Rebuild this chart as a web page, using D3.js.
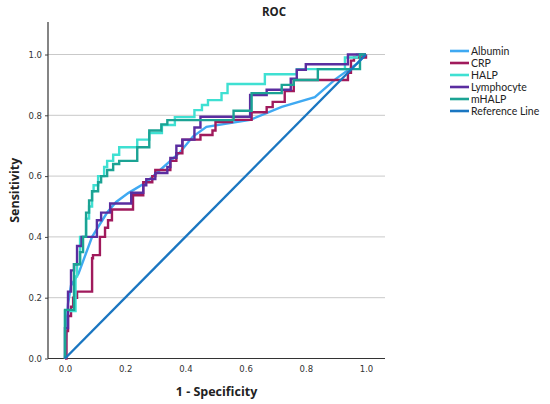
<!DOCTYPE html>
<html>
<head>
<meta charset="utf-8">
<script src="https://cdn.jsdelivr.net/npm/d3@7"></script>
<style>
  body { margin: 0; background: #fff; }
  .tick text { font-family: "DejaVu Sans", sans-serif; font-size: 8.5px; fill: #333; }
  .tick line { stroke: #444; }
</style>
</head>
<body>
<div id="chart"></div>
<script>
/// Chart values (fpr, tpr pairs)
var seriesNames = ["Albumin", "CRP", "HALP", "Lymphocyte", "mHALP", "Reference Line"];
var seriesColors = ["#3fa9f2", "#a01a5c", "#3fe0d2", "#5a2da0", "#1ba394", "#1a76c1"];

var albumin = [[0,0],[0.005,0.1],[0.01,0.18],[0.02,0.24],[0.045,0.28],[0.09,0.4],[0.14,0.48],[0.17,0.515],
  [0.21,0.544],[0.27,0.58],[0.38,0.676],[0.425,0.73],[0.47,0.762],[0.615,0.785],[0.72,0.828],[0.83,0.86],
  [0.9,0.92],[0.97,0.97],[1,1]];

var crp = [[0,0],[0.005,0],[0.01,0.09],[0.02,0.14],[0.027,0.17],[0.04,0.2],[0.043,0.22],[0.09,0.22],[0.09,0.25],
  [0.093,0.33],[0.1,0.34],[0.116,0.34],[0.116,0.38],[0.133,0.4],[0.143,0.43],[0.156,0.455],[0.17,0.49],
  [0.226,0.49],[0.226,0.51],[0.25,0.537],[0.26,0.537],[0.26,0.56],[0.29,0.58],[0.3,0.6],[0.35,0.62],
  [0.35,0.63],[0.37,0.65],[0.39,0.675],[0.425,0.72],[0.45,0.72],[0.45,0.735],[0.49,0.735],[0.5,0.75],
  [0.515,0.778],[0.555,0.778],[0.555,0.785],[0.62,0.785],[0.62,0.81],[0.67,0.81],[0.67,0.827],[0.69,0.827],
  [0.69,0.844],[0.73,0.844],[0.73,0.87],[0.76,0.88],[0.78,0.916],[0.94,0.916],[0.94,0.94],[0.95,0.94],
  [0.96,0.98],[1,0.99],[1,1]];

var halp = [[0,0],[0,0.08],[0.003,0.156],[0.035,0.156],[0.035,0.2],[0.04,0.27],[0.05,0.31],[0.07,0.4],
  [0.08,0.46],[0.09,0.5],[0.095,0.55],[0.11,0.57],[0.13,0.6],[0.14,0.63],[0.16,0.65],[0.18,0.67],
  [0.185,0.695],[0.24,0.695],[0.24,0.72],[0.28,0.72],[0.28,0.742],[0.322,0.742],[0.34,0.768],[0.365,0.768],
  [0.37,0.794],[0.43,0.794],[0.43,0.817],[0.455,0.817],[0.455,0.834],[0.475,0.834],[0.475,0.85],[0.52,0.85],
  [0.52,0.873],[0.54,0.873],[0.54,0.903],[0.664,0.903],[0.67,0.935],[0.77,0.935],[0.77,0.952],[0.93,0.952],
  [0.93,0.99],[0.97,0.99],[1,1]];

var lymphocyte = [[0,0],[0,0.03],[0.01,0.1],[0.01,0.16],[0.02,0.22],[0.03,0.29],[0.04,0.31],[0.055,0.37],
  [0.066,0.4],[0.106,0.4],[0.106,0.43],[0.12,0.455],[0.15,0.48],[0.166,0.51],[0.22,0.51],[0.22,0.545],
  [0.26,0.545],[0.27,0.57],[0.3,0.59],[0.315,0.61],[0.34,0.61],[0.35,0.63],[0.37,0.66],[0.39,0.7],
  [0.43,0.72],[0.45,0.76],[0.47,0.795],[0.615,0.795],[0.615,0.867],[0.67,0.867],[0.67,0.884],[0.75,0.884],
  [0.77,0.92],[0.8,0.95],[0.8,0.968],[0.94,0.968],[0.94,1],[1,1]];

var mhalp = [[0,0],[0,0.16],[0.03,0.16],[0.03,0.28],[0.05,0.31],[0.06,0.35],[0.07,0.4],[0.08,0.48],
  [0.09,0.52],[0.11,0.55],[0.12,0.58],[0.14,0.6],[0.16,0.62],[0.18,0.64],[0.2,0.65],[0.24,0.65],
  [0.24,0.695],[0.28,0.695],[0.28,0.75],[0.32,0.75],[0.34,0.77],[0.37,0.784],[0.56,0.784],[0.56,0.815],
  [0.62,0.815],[0.62,0.85],[0.66,0.873],[0.72,0.873],[0.72,0.9],[0.76,0.9],[0.76,0.916],[0.84,0.916],
  [0.84,0.952],[0.98,0.952],[1,1]];

var referenceLine = [[0,0],[1,1]];

var xTicks = [0, 0.2, 0.4, 0.6, 0.8, 1.0];
var yTicks = [0, 0.2, 0.4, 0.6, 0.8, 1.0];

/// Layout
var svgWidth = 550;
var svgHeight = 404;
var plot = { left: 48, right: 385, top: 22, bottom: 358.5 };

var svg = d3.select("#chart")
  .append("svg")
  .attr("width", svgWidth)
  .attr("height", svgHeight);

var xScale = d3.scaleLinear().domain([0, 1]).range([65, 366]);
var yScale = d3.scaleLinear().domain([0, 1]).range([358.5, 54.5]);

/// Horizontal grid lines
svg.append("g")
  .selectAll("line")
  .data(yTicks.filter(d => d > 0))
  .enter()
  .append("line")
  .attr("x1", plot.left)
  .attr("x2", plot.right)
  .attr("y1", d => yScale(d))
  .attr("y2", d => yScale(d))
  .attr("stroke", "#c9c9c9")
  .attr("stroke-width", 1);

/// Axes
var leftAxis = d3.axisLeft(yScale).tickValues(yTicks).tickFormat(d3.format(".1f")).tickSize(3).tickPadding(3);
var bottomAxis = d3.axisBottom(xScale).tickValues(xTicks).tickFormat(d3.format(".1f")).tickSize(3).tickPadding(4);

svg.append("g")
  .attr("transform", `translate(${plot.left},0)`)
  .call(leftAxis)
  .call(g => g.select(".domain").remove());

svg.append("g")
  .attr("transform", `translate(0,${plot.bottom})`)
  .call(bottomAxis)
  .call(g => g.select(".domain").remove())
  .call(g => g.selectAll(".tick line").remove());

svg.append("line")
  .attr("x1", plot.left).attr("x2", plot.left)
  .attr("y1", plot.top).attr("y2", plot.bottom)
  .attr("stroke", "#333").attr("stroke-width", 1.2);

svg.append("line")
  .attr("x1", plot.left).attr("x2", plot.right)
  .attr("y1", plot.bottom).attr("y2", plot.bottom)
  .attr("stroke", "#333").attr("stroke-width", 1.2);

/// Curves
var stepLine = d3.line()
  .x(d => xScale(d[0]))
  .y(d => yScale(d[1]))
  .curve(d3.curveStepBefore);

var straightLine = d3.line()
  .x(d => xScale(d[0]))
  .y(d => yScale(d[1]));

var allSeries = [
  { data: albumin, line: straightLine },
  { data: crp, line: stepLine },
  { data: halp, line: stepLine },
  { data: lymphocyte, line: stepLine },
  { data: mhalp, line: stepLine },
  { data: referenceLine, line: straightLine }
];

allSeries.forEach(function(s, i) {
  svg.append("path")
    .datum(s.data)
    .attr("fill", "none")
    .attr("stroke", seriesColors[i])
    .attr("stroke-width", 2.4)
    .attr("stroke-linejoin", "miter")
    .attr("d", s.line);
});

/// Titles
svg.append("text")
  .attr("x", 274)
  .attr("y", 16)
  .attr("text-anchor", "middle")
  .attr("font-family", "Open Sans, sans-serif")
  .attr("font-weight", "bold")
  .attr("font-size", "11.5px")
  .attr("fill", "#222")
  .text("ROC");

svg.append("text")
  .attr("x", (plot.left + plot.right) / 2)
  .attr("y", 396)
  .attr("text-anchor", "middle")
  .attr("font-family", "Open Sans, sans-serif")
  .attr("font-weight", "bold")
  .attr("font-size", "12.5px")
  .attr("fill", "#222")
  .text("1 - Specificity");

svg.append("text")
  .attr("transform", `translate(19,${(plot.top + plot.bottom) / 2}) rotate(-90)`)
  .attr("text-anchor", "middle")
  .attr("font-family", "Open Sans, sans-serif")
  .attr("font-weight", "bold")
  .attr("font-size", "12.5px")
  .attr("fill", "#222")
  .text("Sensitivity");

/// Legend
var legend = svg.append("g")
  .attr("transform", "translate(450,51)");

var rows = legend.selectAll("g")
  .data(seriesNames)
  .enter()
  .append("g")
  .attr("transform", (d, i) => `translate(0,${i * 12})`);

rows.append("line")
  .attr("x1", 0).attr("x2", 19)
  .attr("y1", 0).attr("y2", 0)
  .attr("stroke", (d, i) => seriesColors[i])
  .attr("stroke-width", 2.6);

rows.append("text")
  .attr("x", 21)
  .attr("y", 0)
  .attr("dy", "0.35em")
  .attr("font-family", "Lato, sans-serif")
  .attr("font-size", "10.5px")
  .attr("fill", "#222")
  .text(d => d);
</script>
</body>
</html>
